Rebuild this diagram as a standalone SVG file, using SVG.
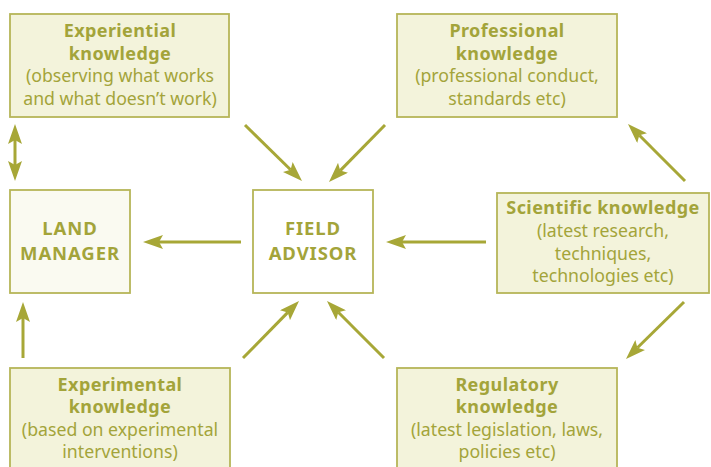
<svg xmlns="http://www.w3.org/2000/svg" width="711" height="467" viewBox="0 0 711 467">
<style>
.box{fill:#f3f3db;stroke:#b6b558;stroke-width:1.8}
.lm{fill:#fafaf1}
.fa{fill:#ffffff}
text{font-family:"Noto Sans","Open Sans","Liberation Sans",sans-serif;fill:#a3a43a;text-anchor:middle;font-size:17.7px}
.t{font-weight:bold;font-size:18px;letter-spacing:0.4px}
.k{font-weight:bold;font-size:18.5px;letter-spacing:0.9px}
.c{stroke:#a7a737;stroke-width:3;fill:none;marker-end:url(#ah)}
</style>
<defs>
<marker id="ah" viewBox="0 0 20 14" refX="4" refY="7" markerWidth="20" markerHeight="14" markerUnits="userSpaceOnUse" orient="auto-start-reverse">
<path d="M0,0 L20,7 L0,14 L4,7 Z" fill="#a7a737"/>
</marker>
</defs>
<g id="experiential">
<rect class="box" x="10" y="14" width="219" height="103"/>
<text class="t" x="120" y="37">Experiential</text>
<text class="t" x="120" y="60">knowledge</text>
<text x="120" y="82">(observing what works</text>
<text x="120" y="105">and what doesn’t work)</text>
</g>
<g id="professional">
<rect class="box" x="397" y="14" width="220" height="103"/>
<text class="t" x="507" y="37">Professional</text>
<text class="t" x="507" y="60">knowledge</text>
<text x="507" y="82">(professional conduct,</text>
<text x="507" y="105">standards etc)</text>
</g>
<g id="land-manager">
<rect class="box lm" x="10" y="190" width="120" height="103"/>
<text class="k" x="70" y="235">LAND</text>
<text class="k" x="70" y="260">MANAGER</text>
</g>
<g id="field-advisor">
<rect class="box fa" x="253" y="190" width="120" height="103"/>
<text class="k" x="313" y="235">FIELD</text>
<text class="k" x="313" y="260">ADVISOR</text>
</g>
<g id="scientific">
<rect class="box" x="497" y="193" width="212" height="100"/>
<text class="t" x="603" y="214">Scientific knowledge</text>
<text x="603" y="237">(latest research,</text>
<text x="603" y="260">techniques,</text>
<text x="603" y="282">technologies etc)</text>
</g>
<g id="experimental">
<rect class="box" x="10" y="368" width="220" height="104"/>
<text class="t" x="120" y="391">Experimental</text>
<text class="t" x="120" y="413">knowledge</text>
<text x="120" y="436">(based on experimental</text>
<text x="120" y="458">interventions)</text>
</g>
<g id="regulatory">
<rect class="box" x="397" y="368" width="220" height="104"/>
<text class="t" x="507" y="391">Regulatory</text>
<text class="t" x="507" y="413">knowledge</text>
<text x="507" y="436">(latest legislation, laws,</text>
<text x="507" y="458">policies etc)</text>
</g>
<g id="connectors">
<line class="c" x1="241" y1="242" x2="159" y2="242"/>
<line class="c" x1="486" y1="242" x2="402" y2="242"/>
<line class="c" x1="245" y1="125" x2="290.6" y2="169.8"/>
<line class="c" x1="385" y1="125" x2="340.2" y2="170.6"/>
<line class="c" x1="685" y1="181" x2="639.3" y2="135.3"/>
<line class="c" x1="684" y1="302" x2="637.4" y2="347.8"/>
<line class="c" x1="243" y1="358" x2="287.8" y2="312.4"/>
<line class="c" x1="384" y1="358" x2="338.3" y2="312.3"/>
<line class="c" x1="23" y1="358" x2="23" y2="318"/>
<line class="c" style="marker-start:url(#ah)" x1="15" y1="140" x2="15" y2="165"/>
</g>
</svg>
